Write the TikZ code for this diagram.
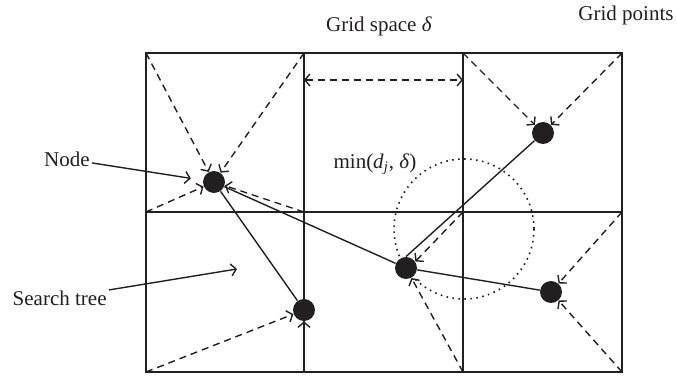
\documentclass[tikz,border=0pt]{standalone}
\usepackage{fontspec}
\setmainfont{Liberation Serif}
\usetikzlibrary{arrows.meta}
\definecolor{ink}{HTML}{231F20}

\begin{document}
\begin{tikzpicture}[
    x=0.5pt, y=-0.5pt, color=ink,
    font=\fontsize{10.5}{12}\selectfont,
    >={Straight Barb[length=2.5pt,width=6pt]},
    cell/.style={line width=0.9pt},
    treenode/.style={circle, fill=ink, inner sep=0pt, minimum size=11pt},
    edge/.style={line width=0.7pt},
    probe/.style={line width=0.7pt, dash pattern=on 3.5pt off 2.5pt, ->},
    pointer/.style={line width=0.7pt, ->},
    reach/.style={line width=0.8pt, dash pattern=on 0.8pt off 2.2pt},
    lbl/.style={inner sep=1pt},
]
\useasboundingbox (0,0) rectangle (677,379);

% ── Grid points and cells ────────────────────────────────────────────────
\foreach \i/\x in {0/146, 1/304, 2/463, 3/622} {
    \foreach \j/\y in {0/53, 1/212, 2/372} {
        \coordinate (g\i\j) at (\x,\y);
    }
}
\draw[cell] (g00) rectangle (g32);
\foreach \i in {1,2} { \draw[cell] (g\i0) -- (g\i2); }
\draw[cell] (g01) -- (g31);

% ── Reach of the hub node ────────────────────────────────────────────────
\draw[reach] (464,229) circle[radius=70];

% ── Search tree ──────────────────────────────────────────────────────────
\node[treenode] (root) at (214,182) {};
\node[treenode] (low)  at (304,310) {};
\node[treenode] (hub)  at (406,268) {};
\node[treenode] (top)  at (543,133) {};
\node[treenode] (side) at (551,292) {};
\foreach \a/\b in {root/low, root/hub, hub.north/top, hub/side} {
    \draw[edge] (\a) -- (\b);
}

% ── Grid points pulled to the nearest node ───────────────────────────────
\foreach \g/\n in {g00/root, g10/root, g01/root, g11/root,
                   g20/top, g30/top, g21/hub.35, g22/hub,
                   g31/side, g32/side, g02/low, g12/low} {
    \draw[probe] (\g) -- (\n);
}

% ── Grid spacing ─────────────────────────────────────────────────────────
\coordinate (spanL) at (304,80);
\coordinate (spanR) at (463,80);
\draw[probe, <->] (spanL) -- (spanR);

% ── Labels ───────────────────────────────────────────────────────────────
\node[lbl] (gridsp)  at (379,26) {Grid space \textit{δ}};
\node[lbl] (gridpts) at (626,15) {Grid points};
\node[lbl] (minlbl)  at (375,164)
    {min(\textit{d}\textsubscript{\textit{j}}, \textit{δ})};
\node[lbl, anchor=east] (nodelbl) at (92,159) {Node};
\node[lbl, anchor=east] (treelbl) at (109,298) {Search tree};
\coordinate (treept) at (237,269);
\draw[pointer, shorten >=6pt] (nodelbl) -- (root);
\draw[pointer] (treelbl) -- (treept);

\end{tikzpicture}
\end{document}
